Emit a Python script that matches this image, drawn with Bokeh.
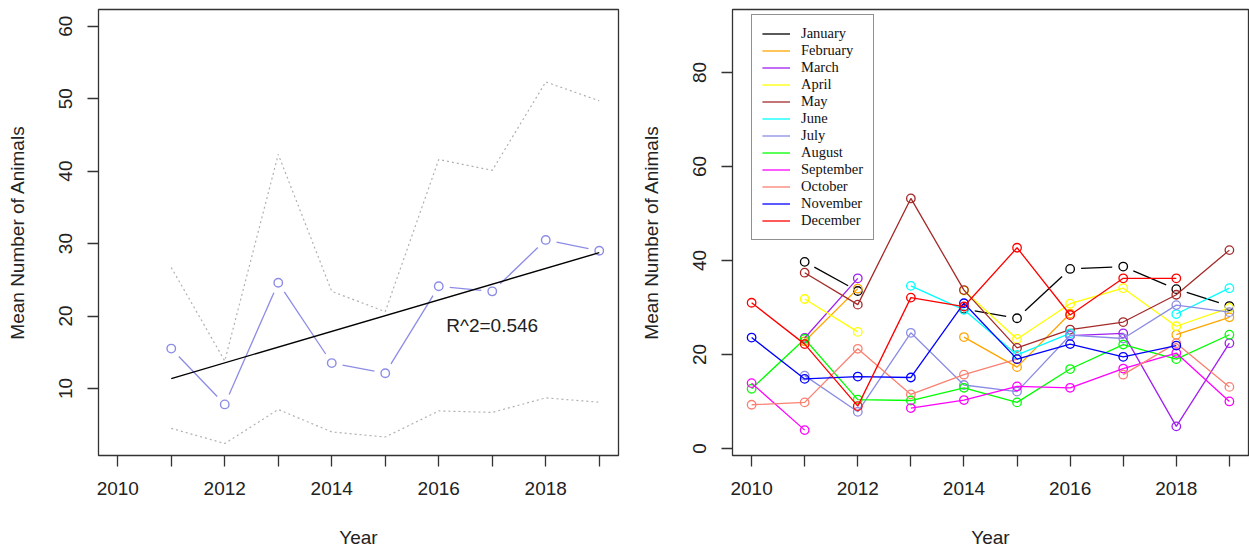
import numpy as np
from bokeh.plotting import figure
from bokeh.layouts import row
from bokeh.models import Range1d, FixedTicker, Legend, LegendItem, Label
from bokeh.embed import file_html
from bokeh.resources import INLINE

nan = float("nan")
years = list(range(2010, 2020))

# Mean number of animals per month and year (nan = month not surveyed)
january   = [nan, 39.7, 33.5, nan, 29.7, 27.7, 38.2, 38.7, 33.9, 30.3]
february  = [nan, 22.8, 34.0, nan, 23.7, 17.3, 28.7, nan, 24.2, 27.9]
march     = [nan, 23.5, 36.2, nan, nan, nan, 24.0, 24.5, 4.7, 22.4]
april     = [nan, 31.8, 24.8, nan, 33.6, 23.3, 30.8, 34.1, 26.0, 29.9]
may       = [nan, 37.4, 30.6, 53.2, 33.7, 21.4, 25.3, 26.9, 32.7, 42.2]
june      = [nan, nan, nan, 34.6, 29.5, 19.9, 24.5, nan, 28.6, 34.1]
july      = [nan, 15.5, 7.8, 24.6, 13.5, 12.1, 24.1, 23.4, 30.5, 29.0]
august    = [12.7, 23.3, 10.4, 10.2, 12.9, 9.8, 16.9, 22.1, 19.0, 24.2]
september = [13.9, 3.9, nan, 8.6, 10.3, 13.2, 12.9, 17.0, 20.3, 10.0]
october   = [9.3, 9.8, 21.2, 11.5, 15.7, 19.0, nan, 15.7, 22.4, 13.1]
november  = [23.6, 14.8, 15.3, 15.1, 30.9, 19.0, 22.2, 19.5, 21.9, nan]
december  = [31.0, 22.2, 9.0, 32.1, 30.2, 42.7, 28.4, 36.2, 36.2, nan]

month_names = ["January", "February", "March", "April", "May", "June", "July",
               "August", "September", "October", "November", "December"]
month_values = [january, february, march, april, may, june, july,
                august, september, october, november, december]
month_colors = ["black", "orange", "#A020F0", "yellow", "#A52A2A", "cyan",
                "#8C8CE6", "#00FF00", "#FF00FF", "#FA8072", "blue", "red"]

# July envelope (upper / lower bounds)
july_upper = [nan, 26.7, 13.8, 42.3, 23.4, 20.6, 41.6, 40.1, 52.3, 49.7]
july_lower = [nan, 4.5, 2.4, 7.1, 4.0, 3.3, 6.9, 6.7, 8.7, 8.1]
r2_text = "R^2=0.546"

left_yticks = [10, 20, 30, 40, 50, 60]
right_yticks = [0, 20, 40, 60, 80]

FONT = "Liberation Sans"
INK = "#222222"
GAP_PX = 11.0      # gap left around points on "both" style lines
MARK = 8.5         # circle marker diameter


def gapped(xs, ys, sx, sy, gap=GAP_PX):
    """Segments between consecutive points, trimmed by `gap` pixels at each end."""
    x0, y0, x1, y1 = [], [], [], []
    for i in range(len(xs) - 1):
        a, b = ys[i], ys[i + 1]
        if np.isnan(a) or np.isnan(b):
            continue
        dx = (xs[i + 1] - xs[i]) * sx
        dy = (b - a) * sy
        L = float(np.hypot(dx, dy))
        if L <= 2 * gap:
            continue
        f = gap / L
        x0.append(xs[i] + (xs[i + 1] - xs[i]) * f)
        y0.append(a + (b - a) * f)
        x1.append(xs[i + 1] - (xs[i + 1] - xs[i]) * f)
        y1.append(b - (b - a) * f)
    return dict(x0=x0, y0=y0, x1=x1, y1=y1)


def style(p, yticks):
    p.xaxis.ticker = FixedTicker(ticks=years)
    p.xaxis.major_label_overrides = {y: ("" if y % 2 else str(y)) for y in years}
    p.yaxis.ticker = FixedTicker(ticks=yticks)
    for ax in p.axis:
        ax.axis_line_color = None
        ax.major_tick_in = 0
        ax.major_tick_out = 11
        ax.major_tick_line_color = "#333333"
        ax.major_tick_line_width = 1.3
        ax.minor_tick_line_color = None
        ax.major_label_text_font = FONT
        ax.major_label_text_font_size = "19px"
        ax.major_label_text_color = INK
        ax.axis_label_text_font = FONT
        ax.axis_label_text_font_size = "19px"
        ax.axis_label_text_font_style = "normal"
        ax.axis_label_text_color = INK
    p.xaxis.major_label_standoff = 15
    p.xaxis.axis_label_standoff = 29
    p.yaxis.major_label_orientation = "vertical"
    p.yaxis.major_label_standoff = 15
    p.yaxis.axis_label_standoff = 29
    p.xgrid.visible = False
    p.ygrid.visible = False
    p.outline_line_color = "#333333"
    p.outline_line_width = 1.3
    p.background_fill_color = "white"
    p.border_fill_color = "white"


# ---------------- left panel: July with trend ----------------
LW, LH = 625, 550
lx = (2009.64, 2019.36)
ly = (0.75, 62.3)
left = figure(width=LW, height=LH, output_backend="svg", toolbar_location=None,
              x_range=Range1d(*lx), y_range=Range1d(*ly),
              min_border_left=98, min_border_right=7,
              min_border_top=7, min_border_bottom=93,
              x_axis_label="Year", y_axis_label="Mean Number of Animals")
style(left, left_yticks)
lfw, lfh = LW - 98 - 7, LH - 7 - 93
lsx, lsy = lfw / (lx[1] - lx[0]), lfh / (ly[1] - ly[0])

left.line(years, july_upper, line_color="#b0b0b0", line_width=1.2, line_dash="2 3")
left.line(years, july_lower, line_color="#b0b0b0", line_width=1.2, line_dash="2 3")
left.segment(source=gapped(years, july, lsx, lsy), x0="x0", y0="y0", x1="x1", y1="y1",
             line_color=month_colors[6], line_width=1.3)
left.scatter(years, july, marker="circle", size=MARK, fill_color=None,
             line_color=month_colors[6], line_width=1.4)

xa = np.array(years, dtype=float)
ya = np.array(july, dtype=float)
ok = ~np.isnan(ya)
slope, icpt = np.polyfit(xa[ok], ya[ok], 1)
fit_x = [xa[ok][0], xa[ok][-1]]
fit_y = [icpt + slope * v for v in fit_x]
left.line(fit_x, fit_y, line_color="black", line_width=1.4)
left.add_layout(Label(x=2017.0, y=18.7, text=r2_text, text_align="center",
                      text_baseline="middle", text_font=FONT,
                      text_font_size="19px", text_color=INK))

# ---------------- right panel: all months ----------------
RW, RH = 624, 550
rx = (2009.64, 2019.36)
ry = (-1.5, 93.4)
right = figure(width=RW, height=RH, output_backend="svg", toolbar_location=None,
               x_range=Range1d(*rx), y_range=Range1d(*ry),
               min_border_left=107, min_border_right=1,
               min_border_top=9, min_border_bottom=94,
               x_axis_label="Year", y_axis_label="Mean Number of Animals")
style(right, right_yticks)
rfw, rfh = RW - 107 - 1, RH - 9 - 94
rsx, rsy = rfw / (rx[1] - rx[0]), rfh / (ry[1] - ry[0])

items = []
for i, (name, vals, col) in enumerate(zip(month_names, month_values, month_colors)):
    if i == 0:
        # January: points with gapped connecting lines
        right.segment(source=gapped(years, vals, rsx, rsy), x0="x0", y0="y0",
                      x1="x1", y1="y1", line_color=col, line_width=1.3)
        key = right.line([nan], [nan], line_color=col, line_width=1.3)
    else:
        key = right.line(years, vals, line_color=col, line_width=1.3)
    right.scatter(years, vals, marker="circle", size=MARK, fill_color=None,
                  line_color=col, line_width=1.3)
    items.append(LegendItem(label=name, renderers=[key]))

legend = Legend(items=items, location=(19, 215), orientation="vertical",
                label_text_font="Liberation Serif", label_text_font_size="14.5px",
                label_text_color="#111111", label_height=17, glyph_height=17,
                glyph_width=28, label_standoff=11, spacing=0, padding=10, margin=0,
                border_line_color="#222222", border_line_width=1.5,
                background_fill_color="white", background_fill_alpha=1.0)
right.add_layout(legend)

layout = row(left, right)
open("out.html", "w").write(file_html(layout, INLINE))
